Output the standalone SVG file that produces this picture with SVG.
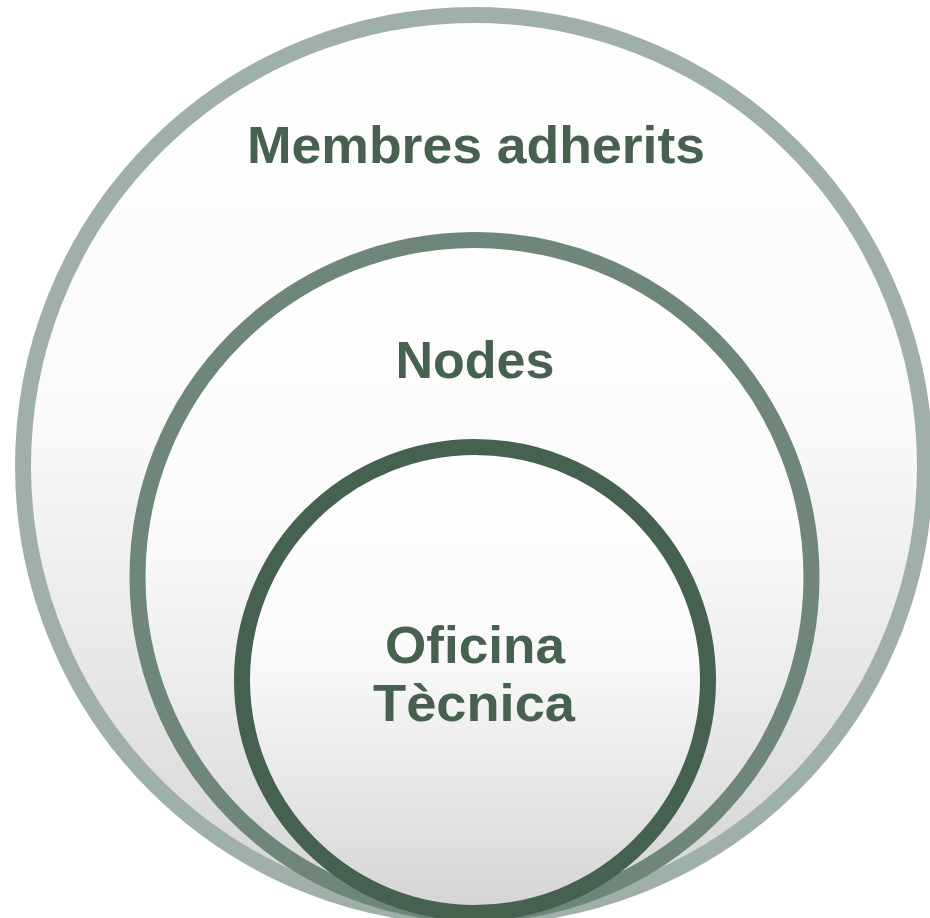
<svg xmlns="http://www.w3.org/2000/svg" width="930" height="918" viewBox="0 0 930 918">
  <defs>
    <linearGradient id="fillShade" x1="0" y1="0" x2="0" y2="1">
      <stop offset="0" stop-color="#ffffff"/>
      <stop offset="0.45" stop-color="#fafafa"/>
      <stop offset="1" stop-color="#d4d4d4"/>
    </linearGradient>
    <style>
      .ring { fill: url(#fillShade); stroke-width: 16; }
      .outer { stroke: #9fb0a8; }
      .middle { stroke: #6f877b; }
      .inner { stroke: #466150; }
      .label { font-family: "Liberation Sans", Arial, sans-serif; font-weight: bold; font-size: 52px; fill: #466150; text-anchor: middle; }
    </style>
  </defs>
  <rect width="930" height="918" fill="#ffffff"/>

  <g id="membres-adherits">
    <circle class="ring outer" cx="474" cy="466" r="451"/>
    <text class="label" x="476" y="163" textLength="458" lengthAdjust="spacingAndGlyphs">Membres adherits</text>
  </g>

  <g id="nodes">
    <circle class="ring middle" cx="474.5" cy="577" r="337"/>
    <text class="label" x="475" y="378">Nodes</text>
  </g>

  <g id="oficina-tecnica">
    <circle class="ring inner" cx="475" cy="680" r="233"/>
    <text class="label" x="475" y="663" textLength="180" lengthAdjust="spacingAndGlyphs">Oficina</text>
    <text class="label" x="474" y="721" textLength="202" lengthAdjust="spacingAndGlyphs">Tècnica</text>
  </g>

  <g id="connectors"/>
</svg>
